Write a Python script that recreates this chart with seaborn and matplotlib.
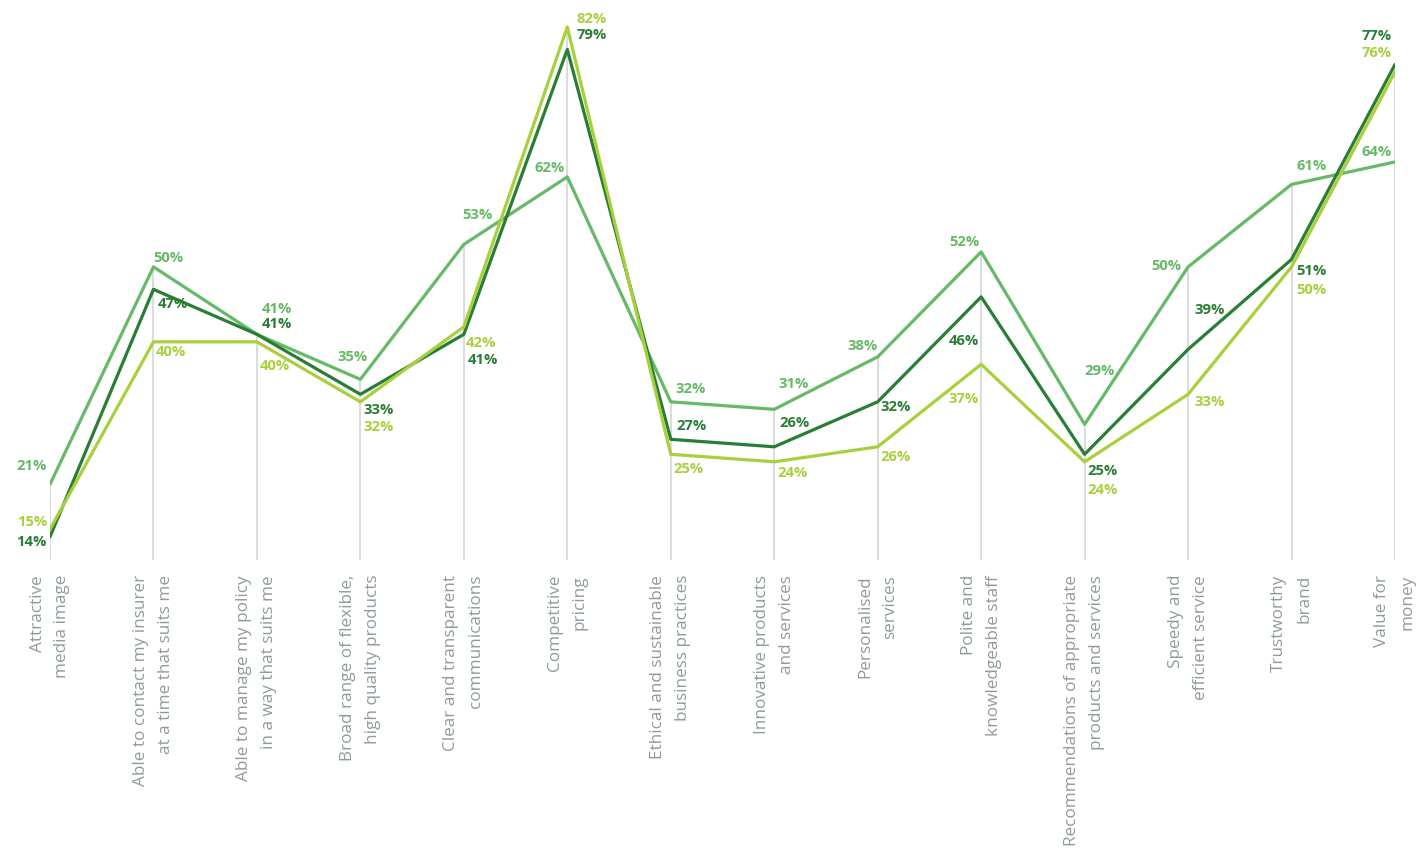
import numpy as np
import pandas as pd
import matplotlib
matplotlib.use("Agg")
import matplotlib.pyplot as plt
import seaborn as sns

# categories along the x axis
categories = [
    "Attractive\nmedia image",
    "Able to contact my insurer\nat a time that suits me",
    "Able to manage my policy\nin a way that suits me",
    "Broad range of flexible,\nhigh quality products",
    "Clear and transparent\ncommunications",
    "Competitive\npricing",
    "Ethical and sustainable\nbusiness practices",
    "Innovative products\nand services",
    "Personalised\nservices",
    "Polite and\nknowledgeable staff",
    "Recommendations of appropriate\nproducts and services",
    "Speedy and\nefficient service",
    "Trustworthy\nbrand",
    "Value for\nmoney",
]

# series values (%)
medium_vals = [21, 50, 41, 35, 53, 62, 32, 31, 38, 52, 29, 50, 61, 64]
dark_vals = [14, 47, 41, 33, 41, 79, 27, 26, 32, 46, 25, 39, 51, 77]
light_vals = [15, 40, 40, 32, 42, 82, 25, 24, 26, 37, 24, 33, 50, 76]

series_names = ["medium", "dark", "light"]
colors = {"medium": "#66b966", "dark": "#2a7d34", "light": "#a8cf3c"}

# label offsets in pixels (dx, dy, ha) per series
label_pos = {
    "medium": [(-3, 18, "right"), (0, 9, "left"), (5, 25, "left"), (7, 22, "right"),
               (-2, 29, "left"), (-3, 9, "right"), (5, 13, "left"), (4, 25, "left"),
               (0, 11, "right"), (-2, 10, "right"), (0, 53, "left"), (-7, 1, "right"),
               (5, 18, "left"), (-3, 10, "right")],
    "dark": [(-3, -5, "right"), (4, -15, "left"), (5, 10, "left"), (3, -16, "left"),
             (4, -26, "left"), (9, 14, "left"), (6, 13, "left"), (5, 24, "left"),
             (3, -5, "left"), (-2, -44, "right"), (3, -17, "left"), (6, 39, "left"),
             (5, -12, "left"), (-3, 28, "right")],
    "light": [(-3, 7, "right"), (2, -10, "left"), (3, -24, "left"), (3, -25, "left"),
              (2, -16, "left"), (9, 8, "left"), (3, -15, "left"), (3, -11, "left"),
              (3, -10, "left"), (-2, -35, "right"), (3, -28, "left"), (6, -8, "left"),
              (5, -23, "left"), (-3, 19, "right")],
}

values = {"medium": medium_vals, "dark": dark_vals, "light": light_vals}
rows = []
for name in series_names:
    for i, v in enumerate(values[name]):
        rows.append({"idx": i, "value": v, "series": name})
df = pd.DataFrame(rows)

sns.set_theme(style="white")
plt.rcParams['font.family'] = ['Open Sans', 'DejaVu Sans']

W, H = 1420, 849
fig = plt.figure(figsize=(W / 100, H / 100), dpi=100)
ax = fig.add_axes([50 / W, 1 - 560 / H, (1395 - 50) / W, 560 / H])

ymin, ymax = 10.9, 85.6
ax.set_xlim(0, len(categories) - 1)
ax.set_ylim(ymin, ymax)

# vertical guide lines from bottom up to the highest point
tops = np.max([medium_vals, dark_vals, light_vals], axis=0)
ax.vlines(range(len(categories)), ymin, tops, color="#dcdcdc", lw=1.5, zorder=1)

sns.lineplot(data=df, x="idx", y="value", hue="series", palette=colors,
             hue_order=["medium", "dark", "light"], linewidth=2.3,
             legend=False, ax=ax, zorder=3)

for name in series_names:
    for i, v in enumerate(values[name]):
        dx, dy, ha = label_pos[name][i]
        ax.annotate(f"{v}%", (i, v), xytext=(dx, dy), textcoords="offset pixels",
                    ha=ha, va="center", fontsize=10.6, fontweight="bold",
                    color=colors[name], annotation_clip=False)

for i, lab in enumerate(categories):
    ax.text(i, ymin - 2.0, lab, rotation=90, ha="center", va="top",
            multialignment="right", fontsize=12.3, color="#8f9c99",
            linespacing=1.75, clip_on=False)

ax.set_xticks([])
ax.set_yticks([])
ax.set_xlabel("")
ax.set_ylabel("")
for s in ax.spines.values():
    s.set_visible(False)
ax.patch.set_alpha(0)

fig.savefig("out.png", dpi=100)
